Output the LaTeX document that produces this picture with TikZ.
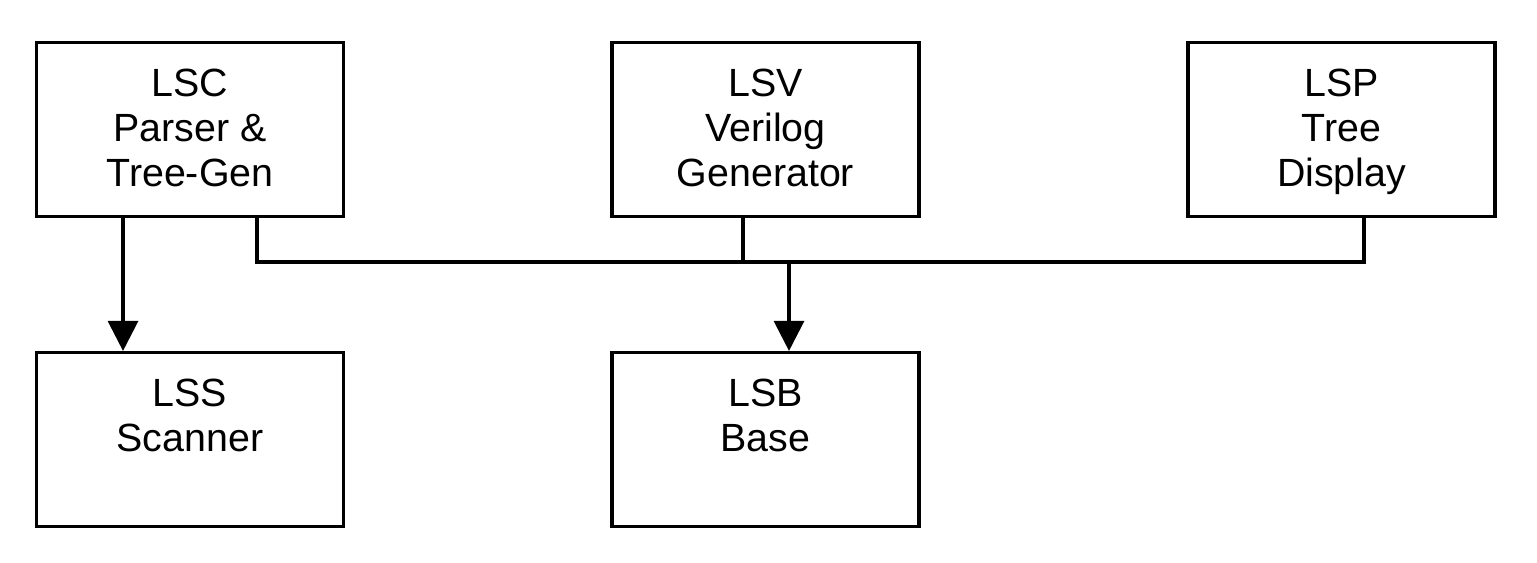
\documentclass[tikz,border=0pt]{standalone}
\usepackage{fontspec}
\setmainfont{Liberation Sans}
\usetikzlibrary{arrows.meta, positioning}

\begin{document}
\begin{tikzpicture}[x=0.02cm, y=-0.02cm,
      modbox/.style={draw, line width=0.064cm, minimum width=6.14cm, minimum height=3.48cm,
         label={[anchor=north, yshift=-0.47cm, align=center, inner sep=0pt,
            font=\fontsize{22.4}{25.6}\selectfont]north:{\strut #1}}},
      wire/.style={line width=0.064cm},
      arr/.style={wire, -{Triangle[length=0.6cm, width=0.6cm]}}]
            \useasboundingbox (0,0) rectangle (1537,562);
            % Modules, top row
            \node[modbox={LSC\\Parser \&\\Tree-Gen}] (lsc) at (190,129.5) {};
            \node[modbox={LSV\\Verilog\\Generator}] (lsv) at (765.5,129.5) {};
            \node[modbox={LSP\\Tree\\Display}] (lsp) at (1341.5,129.5) {};
            % Modules, bottom row
            \node[modbox={LSS\\Scanner}] (lss) at (190,439.5) {};
            \node[modbox={LSB\\Base}] (lsb) at (765.5,439.5) {};
            % Taps onto the shared bus
            \coordinate (lscT) at ([xshift=1.34cm]lsc.south);
            \coordinate (lsvT) at ([xshift=-0.45cm]lsv.south);
            \coordinate (lspT) at ([xshift=0.45cm]lsp.south);
            \coordinate (bus) at (789,262);
            % Bus line
            \draw[wire] (lscT) |- (lspT |- bus) -- (lspT);
            \draw[wire] (lsvT) -- (lsvT |- bus);
            % Arrows down
            \draw[arr] ([xshift=-1.34cm]lsc.south) -- ([xshift=-1.34cm]lss.north);
            \draw[arr] (bus) -- (bus |- lsb.north);
         \end{tikzpicture}
\end{document}
